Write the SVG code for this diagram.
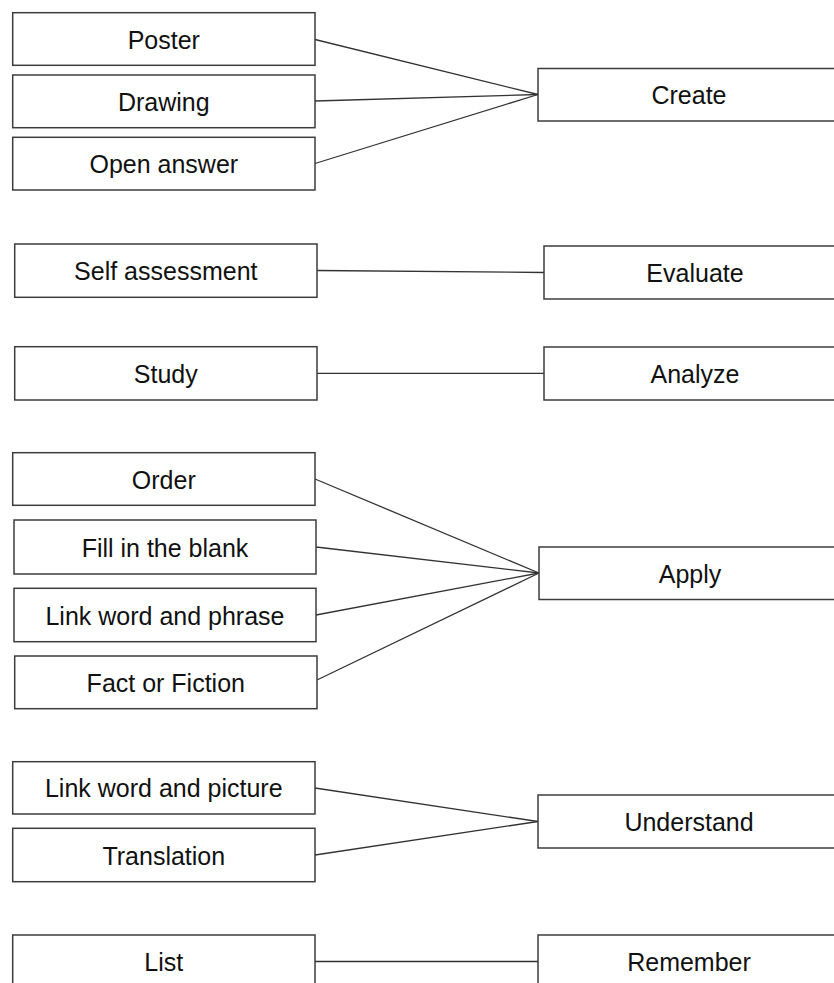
<svg xmlns="http://www.w3.org/2000/svg" width="834" height="983" viewBox="0 0 834 983">
  <style>
    .box { fill: #ffffff; stroke: #3c3c3c; stroke-width: 1.5; }
    .lbl { font-family: "Liberation Sans", Arial, sans-serif; font-size: 25px; fill: #111111; text-anchor: middle; }
    .edge { stroke: #333333; stroke-width: 1.3; fill: none; }
  </style>
  <rect width="834" height="983" fill="#ffffff"/>

  <!-- connectors -->
  <g id="connectors">
    <line class="edge" x1="315" y1="39.5" x2="538" y2="94.5"/>
    <line class="edge" x1="315" y1="101" x2="538" y2="94.5"/>
    <line class="edge" x1="315" y1="163.5" x2="538" y2="94.5"/>
    <line class="edge" x1="317" y1="270.5" x2="544" y2="272.5"/>
    <line class="edge" x1="317" y1="373.3" x2="544" y2="373.3"/>
    <line class="edge" x1="315" y1="479" x2="539" y2="573"/>
    <line class="edge" x1="316" y1="547" x2="539" y2="573"/>
    <line class="edge" x1="316" y1="615" x2="539" y2="573"/>
    <line class="edge" x1="317" y1="680" x2="539" y2="573"/>
    <line class="edge" x1="315" y1="788" x2="538" y2="821.5"/>
    <line class="edge" x1="315" y1="855" x2="538" y2="821.5"/>
    <line class="edge" x1="315" y1="961.5" x2="538" y2="961.5"/>
  </g>

  <!-- activity nodes (left column) -->
  <g id="poster"><rect class="box" x="12.7" y="12.7" width="302.3" height="52.6"/><text class="lbl" x="163.8" y="48.5">Poster</text></g>
  <g id="drawing"><rect class="box" x="12.7" y="75" width="302.3" height="52.7"/><text class="lbl" x="163.8" y="110.8">Drawing</text></g>
  <g id="open-answer"><rect class="box" x="12.7" y="137.3" width="302.3" height="52.7"/><text class="lbl" x="163.8" y="173.1">Open answer</text></g>
  <g id="self-assessment"><rect class="box" x="14.7" y="244" width="302.3" height="53.3"/><text class="lbl" x="165.8" y="280">Self assessment</text></g>
  <g id="study"><rect class="box" x="14.7" y="346.7" width="302.3" height="53.3"/><text class="lbl" x="165.8" y="382.8">Study</text></g>
  <g id="order"><rect class="box" x="12.7" y="452.7" width="302.3" height="52.6"/><text class="lbl" x="163.8" y="488.5">Order</text></g>
  <g id="fill-blank"><rect class="box" x="14" y="520" width="302" height="54"/><text class="lbl" x="165" y="556.5">Fill in the blank</text></g>
  <g id="link-phrase"><rect class="box" x="14" y="588.3" width="302" height="53.4"/><text class="lbl" x="165" y="624.5">Link word and phrase</text></g>
  <g id="fact-fiction"><rect class="box" x="14.7" y="656" width="302.3" height="52.7"/><text class="lbl" x="165.8" y="691.8">Fact or Fiction</text></g>
  <g id="link-picture"><rect class="box" x="12.7" y="761.7" width="302.3" height="52.3"/><text class="lbl" x="163.8" y="797.3">Link word and picture</text></g>
  <g id="translation"><rect class="box" x="12.7" y="828.3" width="302.3" height="53.4"/><text class="lbl" x="163.8" y="864.5">Translation</text></g>
  <g id="list"><rect class="box" x="12.7" y="935" width="302.3" height="53"/><text class="lbl" x="163.8" y="971">List</text></g>

  <!-- taxonomy levels (right column) -->
  <g id="create"><rect class="box" x="538" y="68.5" width="302" height="52.5"/><text class="lbl" x="689" y="104.2">Create</text></g>
  <g id="evaluate"><rect class="box" x="544" y="246" width="302" height="53"/><text class="lbl" x="695" y="281.8">Evaluate</text></g>
  <g id="analyze"><rect class="box" x="544" y="347" width="302" height="53"/><text class="lbl" x="695" y="382.8">Analyze</text></g>
  <g id="apply"><rect class="box" x="539" y="547" width="302" height="52.5"/><text class="lbl" x="690" y="582.5">Apply</text></g>
  <g id="understand"><rect class="box" x="538" y="795" width="302" height="53"/><text class="lbl" x="689" y="830.8">Understand</text></g>
  <g id="remember"><rect class="box" x="538" y="935" width="302" height="53"/><text class="lbl" x="689" y="971">Remember</text></g>
</svg>
